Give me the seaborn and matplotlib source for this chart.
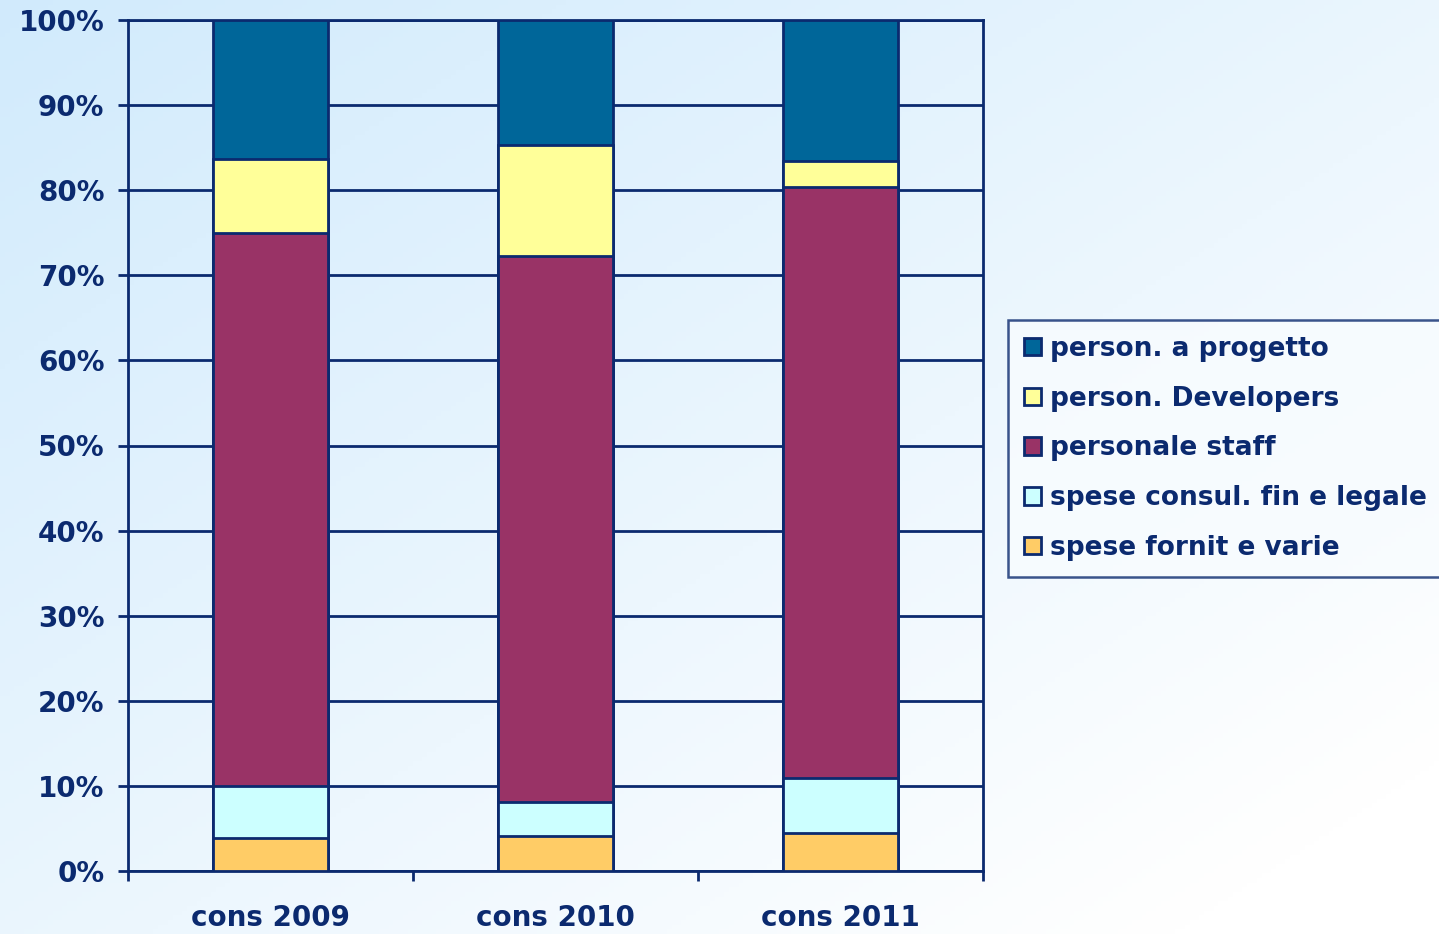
import matplotlib
matplotlib.use("Agg")
import matplotlib.pyplot as plt
import matplotlib.patches as mpatches
import seaborn as sns
import pandas as pd
import numpy as np

# Values (% of total per year)
years = ["cons 2009", "cons 2010", "cons 2011"]
fornit = [3.9, 4.1, 4.5]
consul = [6.1, 4.0, 6.4]
staff = [65.0, 64.2, 69.5]
developers = [8.7, 13.0, 3.0]
progetto = [16.3, 14.7, 16.6]

series = ["spese fornit e varie", "spese consul. fin e legale", "personale staff",
          "person. Developers", "person. a progetto"]
colors = ["#FFCC66", "#CCFFFF", "#993366", "#FFFF99", "#006699"]
navy = "#0B2A6F"

df = pd.DataFrame({"year": years, series[0]: fornit, series[1]: consul,
                   series[2]: staff, series[3]: developers, series[4]: progetto})
cum = df[series].cumsum(axis=1)

sns.set_theme(style="white")
plt.rcParams["font.family"] = ["DejaVu Sans"]
plt.rcParams["font.weight"] = "bold"

fig = plt.figure(figsize=(14.39, 9.34), dpi=100)

# gradient background over whole figure
bg = fig.add_axes([0, 0, 1, 1], zorder=-10)
yy, xx = np.mgrid[0:1:200j, 0:1:300j]
t = np.clip(0.55 * yy + 0.55 * xx, 0, 1)
c0 = np.array([0.82, 0.92, 0.99])
c1 = np.array([1.0, 1.0, 1.0])
img = c0[None, None, :] * (1 - t[..., None]) + c1[None, None, :] * t[..., None]
bg.imshow(img, extent=[0, 1, 0, 1], origin="upper", aspect="auto")
bg.axis("off")

ax = fig.add_axes([128 / 1439, 63 / 934, 855 / 1439, 851 / 934])
ax.patch.set_alpha(0)

# stacked bars: draw the cumulative totals from top to bottom
for s, col in zip(series[::-1], colors[::-1]):
    sns.barplot(x=df["year"], y=cum[s], color=col, width=0.405, ax=ax,
                edgecolor=navy, linewidth=2, saturation=1, zorder=3)

ax.set_xlim(-0.5, 2.5)
ax.set_ylim(0, 100)
ax.set_yticks(np.arange(0, 101, 10))
ax.set_yticklabels([f"{v}%" for v in range(0, 101, 10)])
ax.set_xticks([-0.5, 0.5, 1.5, 2.5])
ax.set_xticklabels([])
ax.set_xticks([0, 1, 2], minor=True)
ax.set_xticklabels(years, minor=True)
ax.set_xlabel("")
ax.set_ylabel("")

ax.yaxis.grid(True, color=navy, linewidth=2, zorder=0)
ax.set_axisbelow(True)
for sp in ax.spines.values():
    sp.set_visible(True)
    sp.set_color(navy)
    sp.set_linewidth(2)

ax.tick_params(axis="y", which="major", direction="out", length=7, width=2,
               color=navy, labelcolor=navy, labelsize=20, pad=10, left=True)
ax.tick_params(axis="x", which="major", direction="out", length=7, width=2,
               color=navy, bottom=True)
ax.tick_params(axis="x", which="minor", length=0, labelcolor=navy,
               labelsize=20, pad=24)
for lab in ax.get_yticklabels() + ax.get_xticklabels(minor=True):
    lab.set_fontweight("bold")

handles = [mpatches.Patch(facecolor=c, edgecolor=navy, linewidth=2, label=s)
           for s, c in zip(series[::-1], colors[::-1])]
leg = fig.legend(handles=handles, loc="upper left",
                 bbox_to_anchor=(1008 / 1439, 1 - 320 / 934),
                 frameon=True, fancybox=False, fontsize=19,
                 handlelength=0.65, handleheight=0.65, handletextpad=0.35,
                 labelspacing=0.9, borderpad=0.6, borderaxespad=0)
leg.get_frame().set_edgecolor(navy)
leg.get_frame().set_linewidth(1.8)
leg.get_frame().set_facecolor("#F8FCFF")
for txt in leg.get_texts():
    txt.set_color(navy)
    txt.set_fontweight("bold")

fig.savefig("out.png", dpi=100)
